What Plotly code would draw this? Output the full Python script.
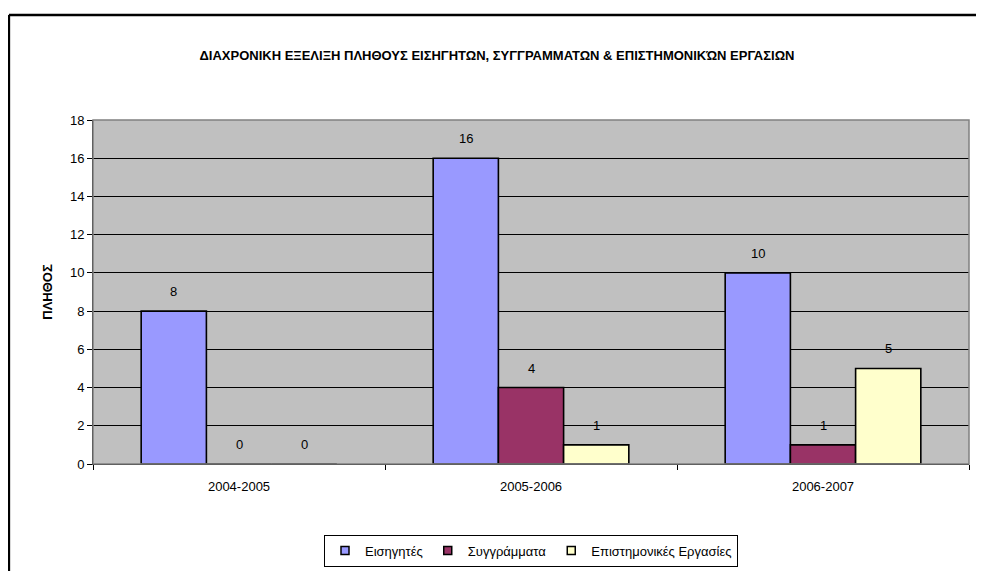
import plotly.graph_objects as go

# Academic years (categories)
years = ['2004-2005', '2005-2006', '2006-2007']

# Series values
eisigites = [8, 16, 10]
syggrammata = [0, 4, 1]
ergasies = [0, 1, 5]

series = [
    ('Εισηγητές', eisigites, '#9999FF'),
    ('Συγγράμματα', syggrammata, '#993366'),
    ('Επιστημονικές Εργασίες', ergasies, '#FFFFCC'),
]

font_family = 'Liberation Sans, Arial, sans-serif'
bargap = 0.33
bar_w = (1 - bargap) / len(series)

fig = go.Figure()
annotations = []
for k, (name, vals, color) in enumerate(series):
    fig.add_trace(go.Bar(
        x=years, y=vals, name=name,
        marker=dict(color=color, line=dict(color='black', width=1.6)),
        showlegend=False,
    ))
    # small square legend marker, like the original
    fig.add_trace(go.Scatter(
        x=[None], y=[None], name=name, mode='markers',
        marker=dict(symbol='square', size=8, color=color,
                    line=dict(color='black', width=1.5)),
    ))
    for i, v in enumerate(vals):
        annotations.append(dict(
            x=i + (k - 1) * bar_w, y=v, xref='x', yref='y',
            text=str(v), showarrow=False,
            yanchor='bottom', yshift=10,
            font=dict(size=13, color='black'),
        ))

# page has 8px body margin, so the figure is 16px smaller
fig.update_layout(
    width=976, height=563,
    margin=dict(l=85, r=15, t=112, b=107, autoexpand=False),
    paper_bgcolor='white',
    plot_bgcolor='#C0C0C0',
    barmode='group',
    bargap=bargap,
    bargroupgap=0,
    font=dict(family=font_family, size=13, color='black'),
    title=dict(
        text='<b>ΔΙΑΧΡΟΝΙΚΗ ΕΞΕΛΙΞΗ ΠΛΗΘΟΥΣ ΕΙΣΗΓΗΤΩΝ, ΣΥΓΓΡΑΜΜΑΤΩΝ & ΕΠΙΣΤΗΜΟΝΙΚΏΝ ΕΡΓΑΣΙΩΝ</b>',
        x=0.501, xanchor='center', xref='container',
        y=0.9165, yanchor='middle', yref='container',
        font=dict(size=13, color='black', family=font_family),
    ),
    showlegend=True,
    legend=dict(
        orientation='h',
        x=0.5, xanchor='center',
        y=-0.205, yanchor='top',
        bordercolor='black', borderwidth=1,
        bgcolor='white',
        font=dict(size=13),
        itemwidth=30,
        tracegroupgap=0,
    ),
    xaxis=dict(
        showline=True, linecolor='black', linewidth=1,
        ticks='outside', tickson='boundaries', ticklen=5, tickcolor='black',
        showgrid=False,
        tickfont=dict(size=13),
        ticklabelstandoff=10,
    ),
    yaxis=dict(
        range=[0, 18], dtick=2,
        showline=True, linecolor='black', linewidth=1,
        ticks='outside', ticklen=5, tickcolor='black',
        showgrid=True, gridcolor='black', gridwidth=1,
        zeroline=False,
        tickfont=dict(size=13),
        title=dict(text='<b>ΠΛΗΘΟΣ</b>', font=dict(size=13), standoff=14),
    ),
    annotations=annotations,
    shapes=[
        # plot area border (gray)
        dict(type='rect', xref='paper', yref='paper', x0=0, x1=1, y0=0, y1=1,
             line=dict(color='#808080', width=1.5), layer='above'),
        # outer chart frame (left and top)
        dict(type='line', xref='paper', yref='paper', x0=-0.096, x1=-0.096, y0=1.305, y1=-0.35,
             line=dict(color='black', width=2.5)),
        dict(type='line', xref='paper', yref='paper', x0=-0.096, x1=1.009, y0=1.305, y1=1.305,
             line=dict(color='black', width=2.5)),
    ],
)

fig.write_html('out.html')
